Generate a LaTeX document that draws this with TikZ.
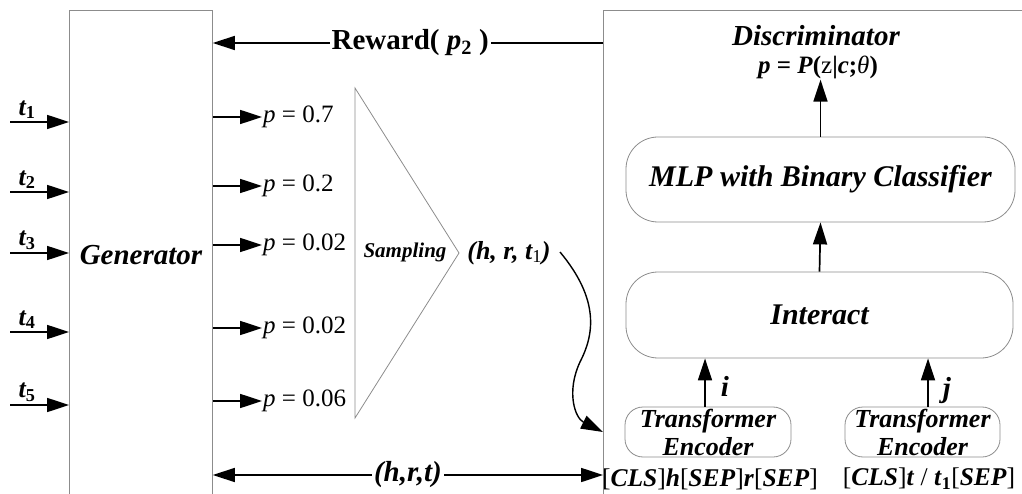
\documentclass[tikz,border=0pt]{standalone}
\usepackage{fontspec}
\setmainfont{Liberation Serif}
\usetikzlibrary{arrows.meta}
\newcommand{\bi}[1]{\textbf{\textit{#1}}}
\begin{document}
\begin{tikzpicture}[x=1pt,y=-1pt,
  arr/.style={line width=1.7pt,-{Triangle[length=22pt,width=14pt]}},
  darr/.style={line width=1.7pt,{Triangle[length=22pt,width=14pt]}-{Triangle[length=22pt,width=14pt]}},
  box/.style={draw=black!45, line width=0.8pt, inner sep=0pt},
  rbox/.style={box, rounded corners=#1},
  bit/.style={font=\fontsize{#1}{#1}\selectfont\bfseries\itshape, inner sep=1pt},
  rm/.style={font=\fontsize{#1}{#1}\selectfont, inner sep=1pt},
  bf/.style={font=\fontsize{#1}{#1}\selectfont\bfseries, inner sep=1pt}
]
\path[use as bounding box] (0,0) rectangle (1022,494);

% main blocks
\node[box, anchor=north west, minimum width=143pt, minimum height=494pt] (gen) at (69,10) {};
\node[bit=29] (genlab) at (141,255) {Generator};
\node[box, anchor=north west, minimum width=440pt, minimum height=494pt] (disc) at (603,10) {};

% inputs
\foreach \y/\n in {122/1,192/2,253/3,332/4,405/5} {
  \coordinate (tin\n) at (10,\y);
  \draw[arr] (tin\n) -- (gen.west |- tin\n);
  \node[bit=26, anchor=south] (tl\n) at (27,\y-2) {t\textsubscript{\upshape\bfseries \n}};
}

% outputs
\foreach \y/\v/\n in {117/0.7/1,186/0.2/2,245/0.02/3,328/0.02/4,401/0.06/5} {
  \coordinate (py\n) at (262,\y);
  \node[rm=25, anchor=west] (pv\n) at (py\n) {\textit{p} = \v};
  \draw[arr] (gen.east |- py\n) -- (py\n);
}

% reward
\coordinate (ry) at (410,43);
\draw[arr] (disc.west |- ry) -- node[pos=0.494, bf=29, fill=white, inner sep=2pt] (rew) {Reward( \textit{p}\textsubscript{2} )} (gen.east |- ry);

% sampling triangle
\draw[box] (355,88) coordinate (ta) -- (459,253) coordinate (tb) -- (355,418) coordinate (tc) -- cycle;
\node[bit=21] (samp) at (405,252) {Sampling};
\node[bit=26] (hrt1) at (509,253) {(h, r, t\textsubscript{\mdseries\upshape 1})};

% curve
\coordinate (cs) at (560,252);
\coordinate (ce) at (0,432);
\draw[arr, line width=1.4pt] (cs) .. controls (600,300) and (594,335) .. (580,362)
  .. controls (566,392) and (575,418) .. (disc.west |- ce);

% bottom
\coordinate (by) at (0,475);
\draw[darr] (gen.east |- by) -- node[pos=0.5, bit=29, fill=white, inner sep=2pt] (hrt) {(h,r,t)} (disc.west |- by);

% discriminator
\node[bit=29] (dlab) at (816,36) {Discriminator};
\node[bf=25] (plab) at (818,67) {\textit{p} = \textit{P}(\textmd{z}|\textit{c};\textit{\mdseries θ})};
\node[rbox=32pt, minimum width=389pt, minimum height=85pt, bit=30] (mlp) at (820.5,179.5) {MLP with Binary Classifier};
\node[rbox=32pt, minimum width=387pt, minimum height=86pt, bit=30] (inter) at (819.5,315) {Interact};
\draw[arr] (mlp.north) -- (mlp.north |- plab.south);
\draw[arr] (inter.north) -- (mlp.south);

\node[rbox=18pt, minimum width=166pt, minimum height=50pt] (enc1) at (708,432) {};
\node[rbox=18pt, minimum width=155pt, minimum height=50pt] (enc2) at (922.5,432) {};
\node[font=\fontsize{26}{28}\selectfont\bfseries\itshape, align=center] (enc1lab) at (enc1.center) {Transformer\\Encoder};
\node[font=\fontsize{26}{28}\selectfont\bfseries\itshape, align=center] (enc2lab) at (enc2.center) {Transformer\\Encoder};
\draw[arr] ([xshift=-3pt]enc1.north) -- ([xshift=-3pt]enc1.north |- inter.south);
\draw[arr] ([xshift=5.5pt]enc2.north) -- ([xshift=5.5pt]enc2.north |- inter.south);
\node[bit=29] (ilab) at (725,386) {i};
\node[bit=29] (jlab) at (947,391) {j};

\node[rm=25.5] (in1) at (710,479) {[\bi{CLS}]\bi{h}[\bi{SEP}]\bi{r}[\bi{SEP}]};
\node[rm=25.5] (in2) at (929,479) {[\bi{CLS}]\bi{t} / \bi{t}\textsubscript{\bfseries 1}[\bi{SEP}]};
\end{tikzpicture}
\end{document}
